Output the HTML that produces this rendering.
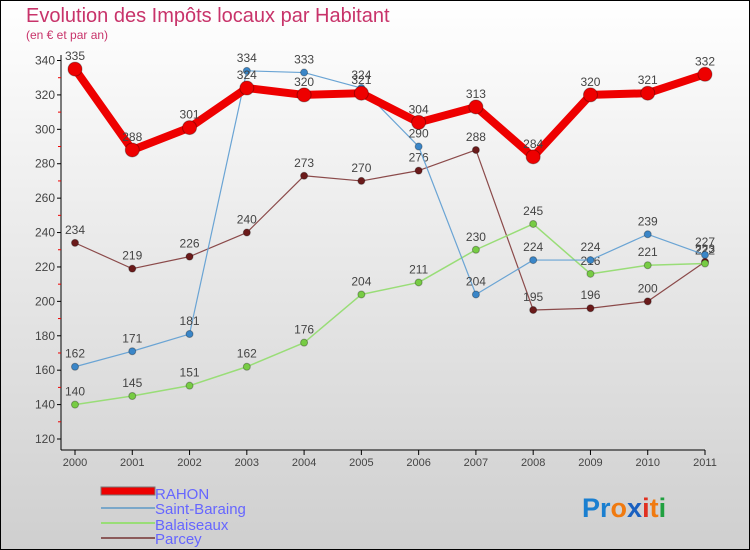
<!DOCTYPE html>
<html><head><meta charset="utf-8"><style>
body{margin:0;}
svg{display:block;font-family:"Liberation Sans","DejaVu Sans",sans-serif;}
</style></head><body>
<svg id="c" width="750" height="550" xmlns="http://www.w3.org/2000/svg">
<defs><linearGradient id="bg" x1="0" y1="0" x2="0" y2="1"><stop offset="0" stop-color="#ffffff"/><stop offset="1" stop-color="#cfcfcf"/></linearGradient></defs>
<rect x="0.5" y="0.5" width="749" height="549" fill="url(#bg)" stroke="#000"/>
<text x="26" y="22" font-size="20" fill="#c8336a">Evolution des Impôts locaux par Habitant</text>
<text x="26" y="39" font-size="12" fill="#c8336a">(en € et par an)</text>
<g id="axes"></g><g id="series"></g>
<g>
<rect x="101" y="487" width="54" height="8" fill="#e00" stroke="#777" stroke-width="1"/>
<line x1="101" y1="508" x2="155" y2="508" stroke="#7aa7c9" stroke-width="2"/>
<line x1="101" y1="523" x2="155" y2="523" stroke="#99dd77" stroke-width="2"/>
<line x1="101" y1="538" x2="155" y2="538" stroke="#8b5a5a" stroke-width="2"/>
<text x="155" y="499" font-size="15" fill="#6666ff">RAHON</text>
<text x="155" y="514" font-size="15" fill="#6666ff">Saint-Baraing</text>
<text x="155" y="530" font-size="15" fill="#6666ff">Balaiseaux</text>
<text x="155" y="544" font-size="15" fill="#6666ff">Parcey</text>
</g>
<text x="582" y="517" font-size="27" font-weight="bold"><tspan fill="#1a7fd0">Pr</tspan><tspan fill="#f07a10">o</tspan><tspan fill="#1a60c0">x</tspan><tspan fill="#e03020">i</tspan><tspan fill="#f07a10">t</tspan><tspan fill="#20a040">i</tspan></text>
</svg>
<script>
const years=["2000","2001","2002","2003","2004","2005","2006","2007","2008","2009","2010","2011"];
const yTicks=[120,140,160,180,200,220,240,260,280,300,320,340];
const rahon=[335,288,301,324,320,321,304,313,284,320,321,332];
const saintBaraing=[162,171,181,334,333,324,290,204,224,224,239,227];
const balaiseaux=[140,145,151,162,176,204,211,230,245,216,221,222];
const parcey=[234,219,226,240,273,270,276,288,195,196,200,223];
const NS="http://www.w3.org/2000/svg";
const X=i=>75+i*(630/11);
const Y=v=>439-(v-120)*(378.5/220);
function mk(t,a,p){const e=document.createElementNS(NS,t);for(const k in a)e.setAttribute(k,a[k]);p.appendChild(e);return e;}
const ax=document.getElementById('axes');
let l=mk('line',{x1:61,y1:55,x2:61,y2:450,stroke:'#000'},ax);

l=mk('line',{x1:61,y1:450,x2:705,y2:450,stroke:'#000'},ax);

yTicks.forEach((v,i)=>{
 const y=Y(v);
 mk('line',{x1:57,y1:y,x2:61,y2:y,stroke:'#000'},ax);
 if(i<yTicks.length-1){mk('line',{x1:58,y1:Y(v+10),x2:61,y2:Y(v+10),stroke:'#e00'},ax);}
 const t=mk('text',{x:55,y:y+4,'font-size':12,'text-anchor':'end',fill:'#444'},ax);t.textContent=v;
 
});
years.forEach((yr,i)=>{
 const x=X(i);
 mk('line',{x1:x,y1:450,x2:x,y2:455,stroke:'#000'},ax);
 const t=mk('text',{x:x,y:466,'font-size':11,'text-anchor':'middle',fill:'#444'},ax);t.textContent=yr;
 
});
const sg=document.getElementById('series');
function draw(vals,color,w,r,name,dot){
 const g=mk('g',{},sg);
 
 const p=mk('polyline',{points:vals.map((v,i)=>X(i)+','+Y(v)).join(' '),fill:'none',stroke:color,'stroke-width':w,'stroke-linejoin':'round'},g);
 
 vals.forEach((v,i)=>{
  const c=mk('circle',{cx:X(i),cy:Y(v),r:r,fill:dot,stroke:'rgba(0,0,0,0.3)','stroke-width':1},g);
  
  const t=mk('text',{x:X(i),y:Y(v)-9,'font-size':12,'text-anchor':'middle',fill:'#444'},g);t.textContent=v;
  
 });
}
draw(parcey,'#8b4a4a',1.2,3.5,'parcey','#6b1a1a');
draw(balaiseaux,'#99dd77',1.5,3.5,'balaiseaux','#77cc44');
draw(saintBaraing,'#6aa4d4',1.2,3.5,'saint-baraing','#3a86c8');
draw(rahon,'#ee0000',8,7,'rahon','#ee0000');
</script>
</body></html>
